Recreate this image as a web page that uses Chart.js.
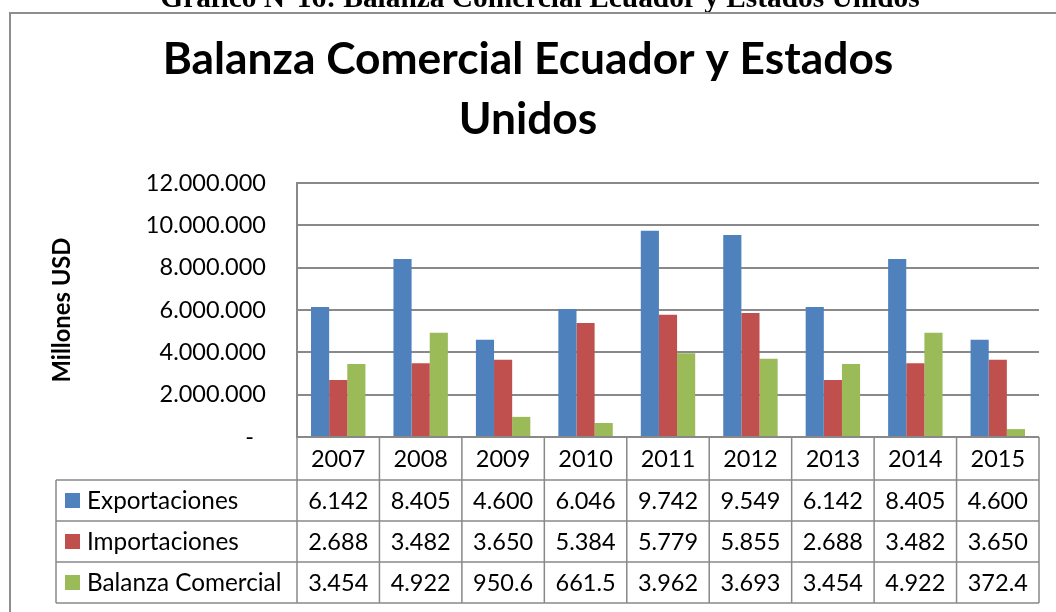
<!DOCTYPE html>
<html>
<head>
<meta charset="utf-8">
<script src="https://cdn.jsdelivr.net/npm/chart.js@4.4.0/dist/chart.umd.min.js"></script>
<style>
  body { margin: 0; background: #fff; }
  canvas { display: block; }
</style>
</head>
<body>
<canvas id="balanzaChart" width="1056" height="612"></canvas>
<script>
// values in miles de USD (table shows them this way)
const years = ["2007", "2008", "2009", "2010", "2011", "2012", "2013", "2014", "2015"];
const exportaciones = [6142, 8405, 4600, 6046, 9742, 9549, 6142, 8405, 4600];
const importaciones = [2688, 3482, 3650, 5384, 5779, 5855, 2688, 3482, 3650];
const balanza = [3454, 4922, 950.6, 661.5, 3962, 3693, 3454, 4922, 372.4];
const seriesNames = ["Exportaciones", "Importaciones", "Balanza Comercial"];
const yTicks = [0, 2000, 4000, 6000, 8000, 10000, 12000];

const colors = ["#4F81BD", "#C0504D", "#9BBB59"];
const gridColor = "#898989";
const font = "Lato";

function fitSize(ctx, text, weight, family, width) {
  ctx.font = weight + " 100px " + family;
  return 100 * width / ctx.measureText(text).width;
}

function fmtTable(v) {
  if (v >= 1000) return Math.round(v).toLocaleString("de-DE");
  return v.toFixed(1);
}

const decor = {
  id: "decor",
  beforeDraw(chart) {
    const ctx = chart.ctx;
    ctx.save();
    ctx.fillStyle = "#fff";
    ctx.fillRect(0, 0, chart.width, chart.height);

    // caption above the chart (cut at the top)
    const cap = "Grafico N°16: Balanza Comercial Ecuador y Estados Unidos";
    let s = fitSize(ctx, cap, "bold", "'Liberation Serif'", 760);
    ctx.font = "bold " + s + "px 'Liberation Serif'";
    ctx.fillStyle = "#000";
    ctx.textAlign = "center";
    ctx.textBaseline = "alphabetic";
    ctx.fillText(cap, 540, 7);

    // frame
    ctx.strokeStyle = "#8e8e8e";
    ctx.lineWidth = 2;
    ctx.strokeRect(10, 13, 1100, 700);

    // title
    const t1 = "Balanza Comercial Ecuador y Estados";
    s = fitSize(ctx, t1, "bold", font, 731);
    ctx.font = "bold " + s + "px " + font;
    ctx.fillText(t1, 528, 74);
    ctx.fillText("Unidos", 528, 134);

    // y title
    s = fitSize(ctx, "Millones USD", "bold", font, 145);
    ctx.font = "bold " + s + "px " + font;
    ctx.translate(62, 310);
    ctx.rotate(-Math.PI / 2);
    ctx.textBaseline = "middle";
    ctx.fillText("Millones USD", 0, 0);
    ctx.restore();
  },
  afterDraw(chart) {
    const ctx = chart.ctx;
    const area = chart.chartArea;
    const xs = chart.scales.x;
    const colW = (area.right - area.left) / years.length;
    const rows = [437, 480, 521, 562, 603];
    const labelLeft = 56;
    const data = [exportaciones, importaciones, balanza];

    ctx.save();
    ctx.strokeStyle = gridColor;
    ctx.lineWidth = 1.5;
    ctx.beginPath();
    ctx.moveTo(area.left, rows[0]);
    ctx.lineTo(area.right, rows[0]);
    for (let r = 1; r < rows.length; r++) {
      ctx.moveTo(labelLeft, rows[r]);
      ctx.lineTo(area.right, rows[r]);
    }
    for (let i = 0; i <= years.length; i++) {
      const x = area.left + i * colW;
      ctx.moveTo(x, rows[0]);
      ctx.lineTo(x, rows[4]);
    }
    ctx.moveTo(labelLeft, rows[1]);
    ctx.lineTo(labelLeft, rows[4]);
    ctx.stroke();

    ctx.fillStyle = "#000";
    ctx.font = "23.5px " + font;
    ctx.textAlign = "center";
    ctx.textBaseline = "middle";
    years.forEach((y, i) => {
      ctx.fillText(y, xs.getPixelForTick(i), (rows[0] + rows[1]) / 2 + 1);
    });
    data.forEach((arr, r) => {
      const cy = (rows[r + 1] + rows[r + 2]) / 2 + 1;
      arr.forEach((v, i) => {
        ctx.fillText(fmtTable(v), xs.getPixelForTick(i), cy);
      });
    });

    ctx.textAlign = "left";
    ctx.font = "24.3px " + font;
    seriesNames.forEach((name, r) => {
      const cy = (rows[r + 1] + rows[r + 2]) / 2;
      ctx.fillStyle = colors[r];
      ctx.fillRect(65, cy - 7.5, 15, 15);
      ctx.fillStyle = "#000";
      ctx.fillText(name, 87, cy + 1);
    });
    ctx.restore();
  }
};

new Chart(document.getElementById("balanzaChart"), {
  type: "bar",
  data: {
    labels: years,
    datasets: [
      { label: seriesNames[0], data: exportaciones, backgroundColor: colors[0] },
      { label: seriesNames[1], data: importaciones, backgroundColor: colors[1] },
      { label: seriesNames[2], data: balanza, backgroundColor: colors[2] }
    ]
  },
  options: {
    responsive: false,
    animation: false,
    devicePixelRatio: 1,
    datasets: {
      bar: { barPercentage: 1, categoryPercentage: 0.66, borderWidth: 0 }
    },
    layout: { padding: { left: 0, top: 183, right: 17, bottom: 175 } },
    plugins: { legend: { display: false }, tooltip: { enabled: false } },
    scales: {
      x: { display: false },
      y: {
        min: 0,
        max: 12000,
        afterFit(scale) { scale.width = 297; },
        afterBuildTicks(scale) { scale.ticks = yTicks.map(v => ({ value: v })); },
        border: { display: true, color: gridColor, width: 2 },
        grid: { color: gridColor, lineWidth: 2, drawTicks: false },
        ticks: {
          padding: 31,
          color: "#000",
          font: { family: font, size: 23.5 },
          callback: v => v === 0 ? "-  " : (v * 1000).toLocaleString("de-DE")
        }
      }
    }
  },
  plugins: [decor]
});
</script>
</body>
</html>
